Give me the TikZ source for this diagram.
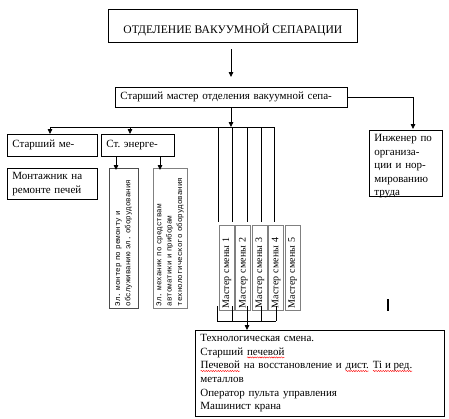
\documentclass[tikz,border=0pt]{standalone}
\usepackage{fontspec}
\setmainfont{Liberation Serif}
\newfontfamily\monofont{Liberation Mono}
\usetikzlibrary{arrows.meta,decorations.pathmorphing}
\frenchspacing
\newcommand\redwave[1]{\tikz[baseline=(w.base)]{\node[inner sep=0pt,outer sep=0pt,minimum width=0pt,
    minimum height=0pt,text width={},text height={},text depth={},draw=none,anchor=center] (w) {#1};
  \draw[red,line width=0.4pt,decorate,decoration={snake,amplitude=0.6pt,segment length=2.4pt}]
    ([yshift=-2.2pt]w.base west) -- ([yshift=-2.2pt]w.base east);}}

\begin{document}
\begin{tikzpicture}[x=1pt,y=-1pt,
  box/.style={draw,line width=0.8pt,inner xsep=5pt,inner ysep=2pt,align=left,
    font=\fontsize{11}{13.6}\selectfont},
  vbox/.style={draw=gray,line width=1pt,rotate=90,inner sep=2pt,align=left,
    minimum width=140pt,text width=136pt,
    font=\monofont\fontsize{7.5}{10.4}\selectfont},
  mbox/.style={draw=gray,line width=1pt,rotate=90,inner sep=1pt,
    minimum width=85pt,minimum height=15pt,text width=81pt,align=left,
    font=\fontsize{10}{10}\selectfont},
  arr/.style={-{Triangle[length=5pt,width=4.5pt]},line width=0.8pt},
  ln/.style={line width=0.8pt}]
  \useasboundingbox (0,0) rectangle (449,418);

  \node[box,anchor=north west,minimum width=249pt,minimum height=33pt,align=center,
    font=\fontsize{11.6}{13.6}\selectfont,text height=18pt,text depth=2pt] (dept) at (108,9)
    {ОТДЕЛЕНИЕ ВАКУУМНОЙ СЕПАРАЦИИ};
  \node[box,anchor=north west,text width=222pt,minimum height=20pt] (senior) at (115,87)
    {Старший мастер отделения вакуумной сепа-};
  \node[box,anchor=north west,text width=80pt,minimum height=22pt] (sme) at (7,134) {Старший ме-};
  \node[box,anchor=north west,text width=63pt,minimum height=22pt] (energ) at (101,134) {Ст. энерге-};
  \node[box,anchor=north west,text width=80pt,minimum height=31pt] (mont) at (7,168)
    {Монтажник на\\ремонте печей};
  \node[box,anchor=north west,text width=63pt,text height=9pt,text depth=53pt] (eng) at (369,130)
    {Инженер по\\организа-\\ции и нор-\\мированию\\труда};
  \node[vbox,draw=black!70,minimum height=29pt] (elmon) at (123.5,238)
    {Эл. монтер по ремонту и\\обслуживанию эл. оборудования};
  \node[vbox,minimum height=34pt] (elmech) at (170,238)
    {Эл. механик по средствам\\автоматики и приборам\\технологического оборудования};
  \foreach \i in {1,...,5}
    \node[mbox] (m\i) at (227+16.4*\i-16.4,267.5) {Мастер смены \i};
  \node[box,anchor=north west,text width=239pt,minimum height=84pt,inner ysep=4pt] (shift) at (195,330)
    {Технологическая смена.\\
     Старший \redwave{печевой}\\
     \redwave{Печевой} на восстановление и \redwave{дист.} \redwave{Ti и ред.}\\
     металлов\\
     Оператор пульта управления\\
     Машинист крана};

  \coordinate (busl) at (50,127);
  \coordinate (busr) at (274,127);
  \draw[ln] (busl) -- (busr);
  \draw[arr] (231,49) -- (231,77);
  \draw[arr] (senior.south -| 231,0) -- (231,127);
  \draw[arr] (senior.east) -| (413,129);
  \draw[arr] (busl) -- (sme.north -| busl);
  \draw[arr] (130,127) -- (energ.north -| 130,0);
  \draw[arr] (energ.south -| 116,0) -- (116,170);
  \draw[arr] (energ.south -| 160,0) -- (160,170);
  \foreach \x in {218,232,247,261,274}
    \draw[ln] (\x,127) -- (\x,222);
  \foreach \x in {217,232,247,261,276}
    \draw[ln] (\x,306) -- (\x,321);
  \draw[ln] (217,321) -- (276,321);
  \draw[arr] (247,321) -- (shift.north -| 247,0);
  \draw[line width=1.6pt] (388,299) -- (388,311);
\end{tikzpicture}
\end{document}
